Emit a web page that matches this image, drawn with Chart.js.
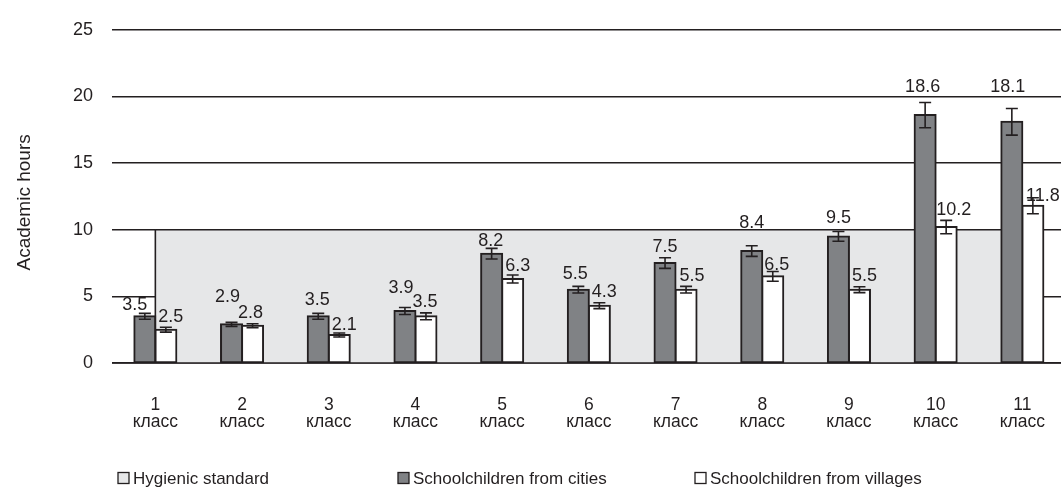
<!DOCTYPE html>
<html>
<head>
<meta charset="utf-8">
<script src="https://cdn.jsdelivr.net/npm/chart.js@4.4.1/dist/chart.umd.min.js"></script>
<style>
  html, body { margin: 0; padding: 0; background: #ffffff; overflow: hidden; }
  #wrap { width: 1061px; height: 488px; overflow: hidden; position: relative; }
  canvas { display: block; }
</style>
</head>
<body>
<div id="wrap"><canvas id="chart" width="1079" height="488"></canvas></div>
<script>
// Grades (two-line tick labels)
const grades = ['1', '2', '3', '4', '5', '6', '7', '8', '9', '10', '11'];
const gradeWord = 'класс';

// Weekly homework load, academic hours
const cityHours    = [3.5, 2.9, 3.5, 3.9, 8.2, 5.5, 7.5, 8.4, 9.5, 18.6, 18.1];
const villageHours = [2.5, 2.8, 2.1, 3.5, 6.3, 4.3, 5.5, 6.5, 5.5, 10.2, 11.8];

// Error margins (±)
const cityError    = [0.22, 0.15, 0.22, 0.26, 0.4, 0.25, 0.4, 0.4, 0.37, 0.95, 1.0];
const villageError = [0.18, 0.15, 0.15, 0.26, 0.3, 0.22, 0.25, 0.37, 0.22, 0.5, 0.6];

// Hygienic standard, academic hours
const hygienicStandard = [10, 10, 10, 10, 10, 10, 10, 10, 10, 10, 10];

const yTicks = [0, 5, 10, 15, 20, 25];

const INK = '#231f20';
const CITY_FILL = '#808285';
const NORM_FILL = '#e6e7e8';
const FONT = '"Liberation Sans", Arial, Helvetica, sans-serif';

const errorsByDataset = [cityError, villageError];

// Value label placement: [horizontal shift from bar centre, gap above error cap] in px
const labelPlacement = [
  [[-10, 3], [-4, 20], [-1, 8], [-4, 15], [-1, 2.5], [-3, 7.5], [0, 6], [0, 17.5], [0, 8], [-2.5, 10], [-4, 16]],
  [[5, 5], [-2, 6], [5, 3], [-1, 6], [5, 4.5], [5, 5.5], [6, 5], [4, 1.5], [5, 6], [7.5, 5], [10, -3]]
];

// Outline of the shaded norm area, error bars, value labels and baseline
const overlayPlugin = {
  id: 'overlay',
  afterDatasetsDraw(chart) {
    const ctx = chart.ctx;
    const x = chart.scales.x;
    const y = chart.scales.y;
    const area = chart.chartArea;

    ctx.save();
    ctx.strokeStyle = INK;
    ctx.lineWidth = 1.6;

    // left edge of the norm area
    const x0 = x.getPixelForValue(0);
    ctx.beginPath();
    ctx.moveTo(x0, y.getPixelForValue(hygienicStandard[0]));
    ctx.lineTo(x0, y.getPixelForValue(0));
    ctx.stroke();

    // baseline
    ctx.beginPath();
    ctx.moveTo(area.left, y.getPixelForValue(0));
    ctx.lineTo(area.right, y.getPixelForValue(0));
    ctx.stroke();

    ctx.fillStyle = INK;
    ctx.font = '18px ' + FONT;
    ctx.textAlign = 'center';
    ctx.textBaseline = 'alphabetic';

    [0, 1].forEach(di => {
      const meta = chart.getDatasetMeta(di);
      const values = chart.data.datasets[di].data;
      const errs = errorsByDataset[di];
      meta.data.forEach((bar, i) => {
        const v = values[i];
        const e = errs[i];
        const yTop = y.getPixelForValue(v + e);
        const yBot = y.getPixelForValue(v - e);
        const cap = 6;
        ctx.beginPath();
        ctx.moveTo(bar.x, yTop);
        ctx.lineTo(bar.x, yBot);
        ctx.moveTo(bar.x - cap, yTop);
        ctx.lineTo(bar.x + cap, yTop);
        ctx.moveTo(bar.x - cap, yBot);
        ctx.lineTo(bar.x + cap, yBot);
        ctx.stroke();

        const [dx, gap] = labelPlacement[di][i];
        ctx.fillText(v.toFixed(1), bar.x + dx, yTop - gap);
      });
    });
    ctx.restore();
  },
  afterDraw(chart) {
    const ctx = chart.ctx;
    const y = chart.scales.y;
    ctx.save();
    ctx.fillStyle = INK;

    // y axis title
    ctx.font = '19px ' + FONT;
    ctx.textAlign = 'center';
    ctx.textBaseline = 'middle';
    ctx.translate(25, (y.top + y.bottom) / 2 + 6);
    ctx.rotate(-Math.PI / 2);
    ctx.fillText('Academic hours', 0, 0);
    ctx.restore();

    // legend
    const items = [
      { label: 'Hygienic standard', fill: NORM_FILL, left: 118 },
      { label: 'Schoolchildren from cities', fill: CITY_FILL, left: 398 },
      { label: 'Schoolchildren from villages', fill: '#ffffff', left: 695 }
    ];
    const cy = 478;
    ctx.save();
    ctx.font = '17px ' + FONT;
    ctx.textAlign = 'left';
    ctx.textBaseline = 'middle';
    items.forEach(it => {
      ctx.fillStyle = it.fill;
      ctx.fillRect(it.left, cy - 5.5, 11, 11);
      ctx.strokeStyle = INK;
      ctx.lineWidth = 1.3;
      ctx.strokeRect(it.left, cy - 5.5, 11, 11);
      ctx.fillStyle = INK;
      ctx.fillText(it.label, it.left + 15, cy + 1);
    });
    ctx.restore();
  }
};

new Chart(document.getElementById('chart'), {
  type: 'bar',
  data: {
    labels: grades.map(g => [g, gradeWord]),
    datasets: [
      {
        label: 'Schoolchildren from cities',
        data: cityHours,
        backgroundColor: CITY_FILL,
        borderColor: INK,
        borderWidth: 2,
        borderSkipped: false,
        inflateAmount: 1,
        categoryPercentage: 0.485,
        barPercentage: 1,
        order: 1
      },
      {
        label: 'Schoolchildren from villages',
        data: villageHours,
        backgroundColor: '#ffffff',
        borderColor: INK,
        borderWidth: 2,
        borderSkipped: false,
        inflateAmount: 1,
        categoryPercentage: 0.485,
        barPercentage: 1,
        order: 1
      },
      {
        type: 'line',
        label: 'Hygienic standard',
        data: hygienicStandard,
        fill: 'origin',
        backgroundColor: NORM_FILL,
        borderColor: INK,
        borderWidth: 1.6,
        pointRadius: 0,
        tension: 0,
        order: 2
      }
    ]
  },
  options: {
    responsive: false,
    animation: false,
    layout: { padding: { top: 24, right: 0, bottom: 0, left: 0 } },
    plugins: {
      legend: { display: false },
      tooltip: { enabled: false }
    },
    scales: {
      x: {
        grid: { display: false, drawTicks: false },
        border: { display: false },
        ticks: {
          color: INK,
          padding: 34,
          font: { family: FONT, size: 17.5, lineHeight: 0.95 },
          maxRotation: 0,
          autoSkip: false
        },
        afterFit(scale) { scale.height = 125; }
      },
      y: {
        min: 0,
        max: 25,
        afterBuildTicks(scale) { scale.ticks = yTicks.map(v => ({ value: v })); },
        grid: { color: INK, lineWidth: 1.6, drawTicks: false },
        border: { display: false },
        ticks: {
          color: INK,
          padding: 19,
          font: { family: FONT, size: 18 }
        },
        afterFit(scale) { scale.width = 112; }
      }
    }
  },
  plugins: [overlayPlugin]
});
</script>
</body>
</html>
